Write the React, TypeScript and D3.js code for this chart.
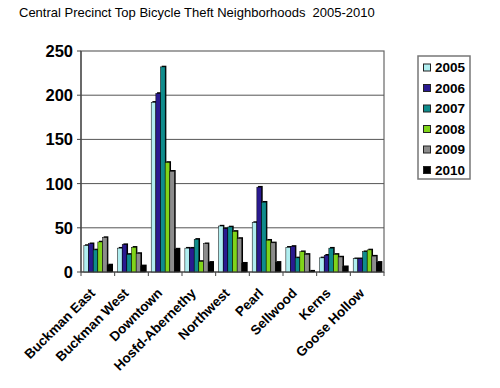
import React, { useEffect, useRef } from 'react';
import * as d3 from 'd3';

const neighborhoods = [
  'Buckman East',
  'Buckman West',
  'Downtown',
  'Hosfd-Abernethy',
  'Northwest',
  'Pearl',
  'Sellwood',
  'Kerns',
  'Goose Hollow'
];
const years = ['2005', '2006', '2007', '2008', '2009', '2010'];
const yearColors = ['#b0eef0', '#2a1a90', '#0f8c8c', '#80d41a', '#8c8c8c', '#000000'];

const thefts2005 = [30, 27, 192, 27, 52, 56, 28, 16, 15];
const thefts2006 = [32, 31, 202, 27, 49, 96, 29, 19, 15];
const thefts2007 = [25, 20, 232, 37, 51, 79, 16, 27, 23];
const thefts2008 = [34, 28, 124, 12, 46, 36, 23, 20, 25];
const thefts2009 = [39, 21, 114, 32, 38, 33, 20, 17, 18];
const thefts2010 = [8, 7, 26, 11, 10, 11, 1, 6, 11];
const seriesValues = [thefts2005, thefts2006, thefts2007, thefts2008, thefts2009, thefts2010];

const yTicks = [0, 50, 100, 150, 200, 250];

const FONT = 'Liberation Sans, Arial, Helvetica, sans-serif';

const App = () => {
  const svgRef = useRef<SVGSVGElement>(null);

  useEffect(() => {
    const svg = d3.select(svgRef.current);
    svg.selectAll('*').remove();

    // plot area
    const left = 81;
    const right = 384;
    const top = 51;
    const bottom = 272;

    const x0 = d3
      .scaleBand()
      .domain(neighborhoods)
      .range([left, right])
      .paddingInner(0.17)
      .paddingOuter(0.085);
    const x1 = d3.scaleBand().domain(years).range([0, x0.bandwidth()]);
    const y = d3.scaleLinear().domain([0, 250]).range([bottom, top]);
    const step = (right - left) / neighborhoods.length;

    // title
    svg
      .append('text')
      .attr('x', 19)
      .attr('y', 17)
      .style('font-family', FONT)
      .style('font-size', '13px')
      .attr('fill', '#000')
      .attr('xml:space', 'preserve')
      .text('Central Precinct Top Bicycle Theft Neighborhoods  2005-2010');

    // frame + gridlines
    svg
      .append('rect')
      .attr('x', left)
      .attr('y', top)
      .attr('width', right - left)
      .attr('height', bottom - top)
      .attr('fill', '#fff')
      .attr('stroke', '#666')
      .attr('stroke-width', 1.2);

    svg
      .append('g')
      .selectAll('line')
      .data(yTicks.filter((t) => t > 0 && t < 250))
      .join('line')
      .attr('x1', left)
      .attr('x2', right)
      .attr('y1', (d) => y(d))
      .attr('y2', (d) => y(d))
      .attr('stroke', '#555')
      .attr('stroke-width', 1);

    // bars
    const bars = svg.append('g');
    neighborhoods.forEach((n, i) => {
      years.forEach((yr, j) => {
        const v = seriesValues[j][i];
        const bx = (x0(n) as number) + (x1(yr) as number);
        const bw = x1.bandwidth();
        const by = y(v);
        const bh = y(0) - y(v);
        // 3d shadow
        bars
          .append('rect')
          .attr('x', bx + 1.2)
          .attr('y', by - 1.2)
          .attr('width', bw)
          .attr('height', bh + 1.2)
          .attr('fill', '#000');
        bars
          .append('rect')
          .attr('x', bx)
          .attr('y', by)
          .attr('width', bw)
          .attr('height', bh)
          .attr('fill', yearColors[j])
          .attr('stroke', '#000')
          .attr('stroke-width', 0.5);
      });
    });

    // y axis
    const yAxis = svg.append('g');
    yAxis
      .append('line')
      .attr('x1', left)
      .attr('x2', left)
      .attr('y1', top)
      .attr('y2', bottom)
      .attr('stroke', '#444')
      .attr('stroke-width', 1.2);
    yAxis
      .selectAll('line.tick')
      .data(yTicks)
      .join('line')
      .attr('class', 'tick')
      .attr('x1', left - 4)
      .attr('x2', left)
      .attr('y1', (d) => y(d))
      .attr('y2', (d) => y(d))
      .attr('stroke', '#444');
    yAxis
      .selectAll('text')
      .data(yTicks)
      .join('text')
      .attr('x', 73)
      .attr('y', (d) => y(d))
      .attr('dy', '0.36em')
      .attr('text-anchor', 'end')
      .style('font-family', FONT)
      .style('font-size', '16.5px')
      .style('font-weight', 'bold')
      .text((d) => d);

    // x axis
    const xAxis = svg.append('g');
    xAxis
      .append('line')
      .attr('x1', left)
      .attr('x2', right)
      .attr('y1', bottom)
      .attr('y2', bottom)
      .attr('stroke', '#444')
      .attr('stroke-width', 1.2);
    xAxis
      .selectAll('line.tick')
      .data(d3.range(neighborhoods.length + 1))
      .join('line')
      .attr('class', 'tick')
      .attr('x1', (d) => left + d * step)
      .attr('x2', (d) => left + d * step)
      .attr('y1', bottom)
      .attr('y2', bottom + 4)
      .attr('stroke', '#444');
    xAxis
      .selectAll('text')
      .data(neighborhoods)
      .join('text')
      .attr('transform', (d) => {
        const cx = (x0(d) as number) + x0.bandwidth() / 2;
        return `translate(${cx - 2},294) rotate(-45)`;
      })
      .attr('text-anchor', 'end')
      .style('font-family', FONT)
      .style('font-size', '13.5px')
      .style('font-weight', 'bold')
      .text((d) => d);

    // legend
    const legend = svg.append('g');
    legend
      .append('rect')
      .attr('x', 418)
      .attr('y', 56)
      .attr('width', 52)
      .attr('height', 123)
      .attr('fill', '#fff')
      .attr('stroke', '#777')
      .attr('stroke-width', 1.5);
    const rowY = d3.scaleLinear().domain([0, years.length - 1]).range([67.5, 170]);
    const items = legend
      .selectAll('g')
      .data(years)
      .join('g')
      .attr('transform', (d, i) => `translate(0,${rowY(i)})`);
    items
      .append('rect')
      .attr('x', 423.5)
      .attr('y', -3.5)
      .attr('width', 7)
      .attr('height', 7)
      .attr('fill', (d, i) => yearColors[i])
      .attr('stroke', '#222')
      .attr('stroke-width', 1);
    items
      .append('text')
      .attr('x', 435)
      .attr('dy', '0.36em')
      .style('font-family', FONT)
      .style('font-size', '13.5px')
      .style('font-weight', 'bold')
      .text((d) => d);
  }, []);

  return (
    <svg
      ref={svgRef}
      width={500}
      height={388}
      style={{ position: 'absolute', left: 0, top: 0, background: '#fff' }}
    ></svg>
  );
};

export default App;
